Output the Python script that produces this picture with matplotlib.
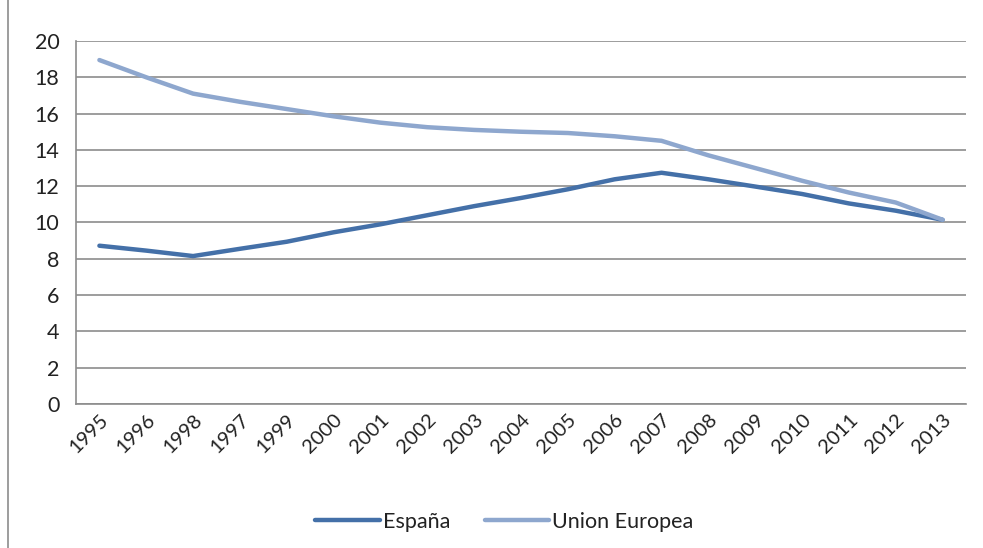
import matplotlib.pyplot as plt
from matplotlib.patches import Rectangle

# categories as shown in the chart (order kept as in the source)
years = ["1995", "1996", "1998", "1997", "1999", "2000", "2001", "2002", "2003", "2004",
         "2005", "2006", "2007", "2008", "2009", "2010", "2011", "2012", "2013"]
espana = [8.72, 8.45, 8.15, 8.55, 8.94, 9.46, 9.9, 10.4, 10.9, 11.35,
          11.83, 12.38, 12.74, 12.38, 11.98, 11.57, 11.05, 10.65, 10.15]
ue = [18.95, 18.0, 17.1, 16.65, 16.25, 15.85, 15.5, 15.25, 15.1, 15.0,
      14.93, 14.75, 14.5, 13.7, 13.0, 12.3, 11.65, 11.1, 10.15]

plt.rcParams['font.family'] = ['Lato', 'DejaVu Sans']

fig = plt.figure(figsize=(9.83, 5.48), dpi=100)
ax = fig.add_axes([0.0773, 0.2628, 0.9054, 0.6624])

x = range(len(years))
ax.plot(x, espana, color="#4470a8", lw=3.2, label="España", solid_capstyle="round")
ax.plot(x, ue, color="#8ea7ce", lw=3.2, label="Union Europea", solid_capstyle="round")

ax.set_xlim(-0.5, len(years) - 0.5)
ax.set_ylim(0, 20)
ax.set_yticks(range(0, 21, 2))
ax.set_xticks(list(x))
ax.set_xticklabels(years, rotation=45, ha="right", rotation_mode="anchor", fontsize=14.5,
                   color="#222222")
ax.tick_params(axis="y", labelsize=15.5, length=0, pad=12, labelcolor="#222222")
ax.tick_params(axis="x", length=0, pad=5)

ax.grid(axis="y", color="#8c8c8c", lw=1.2)
ax.set_axisbelow(True)
for s in ["top", "right"]:
    ax.spines[s].set_visible(False)
ax.spines["left"].set_color("#8c8c8c")
ax.spines["bottom"].set_color("#8c8c8c")
ax.spines["left"].set_linewidth(1.2)
ax.spines["bottom"].set_linewidth(1.2)

fig.legend(loc="center", bbox_to_anchor=(0.513, 0.048), ncol=2, frameon=False,
           fontsize=15.5, handlelength=3.0, handletextpad=0.15, columnspacing=1.6,
           labelcolor="#222222")

# outer chart border
fig.patches.append(Rectangle((0.008, -0.01), 1.1, 1.1, transform=fig.transFigure,
                             fill=False, edgecolor="#8c8c8c", lw=1.2))

fig.savefig("out.png", dpi=100)
